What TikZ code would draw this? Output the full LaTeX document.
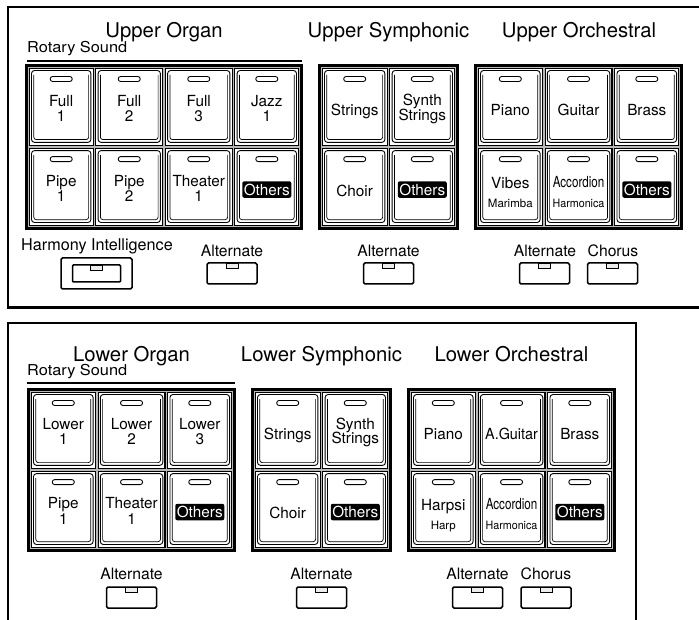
\documentclass[tikz,border=0pt]{standalone}
\usepackage{fontspec}
\setmainfont{TeX Gyre Heros}
\usepackage{graphicx}
\usetikzlibrary{calc}
\tikzset{
  panelline/.style={line width=2.5pt},
  grpfill/.style={fill=gray!55},
  grpframe/.style={line width=2.8pt},
  cellbox/.style={line width=1.1pt, fill=white},
  keyface/.style={line width=0.9pt, rounded corners=3pt, fill=white},
  keyinner/.style={line width=0.7pt, rounded corners=2.5pt},
  led/.style={line width=0.9pt, rounded corners=2.4pt, fill=white},
  grptitle/.style={font=\fontsize{20.3}{22}\selectfont, anchor=base, inner sep=0pt},
  keytxt/.style={font=\fontsize{15.3}{16}\selectfont, anchor=base, inner sep=0pt},
  smalltxt/.style={font=\fontsize{11.5}{12}\selectfont, anchor=base, inner sep=0pt},
  otherstag/.style={fill=black, text=white, rounded corners=2pt, font=\fontsize{15.3}{16}\selectfont, inner sep=0pt, minimum width=49pt, minimum height=16.5pt},
  lbl/.style={font=\fontsize{15.7}{17}\selectfont, anchor=base, inner sep=0pt},
  rotary/.style={font=\fontsize{15}{16}\selectfont, anchor=base west, inner sep=0pt},
  tabbtn/.style={draw, line width=1.5pt, rounded corners=1.5pt, minimum width=50pt, minimum height=21pt, inner sep=0pt},
  notch/.style={line width=0.8pt, fill=gray!15},
}
% #1 name, #2 x0, #3 y0, #4 cols, #5 rows, #6 w, #7 h
\newcommand{\keygroup}[7]{%
  \pgfmathsetmacro{\gx}{#2}\pgfmathsetmacro{\gy}{#3}%
  \pgfmathsetmacro{\gxe}{#2+#4*#6}\pgfmathsetmacro{\gye}{#3+#5*#7}%
  \fill[grpfill] (\gx,\gy) rectangle (\gxe,\gye);
  \foreach \ci in {1,...,#4}{%
    \foreach \ri in {1,...,#5}{%
      \pgfmathsetmacro{\cl}{#2+(\ci-1)*#6+ifthenelse(\ci==1,4.3,1.4)}%
      \pgfmathsetmacro{\cr}{#2+\ci*#6-ifthenelse(\ci==#4,4.3,1.4)}%
      \pgfmathsetmacro{\ct}{#3+(\ri-1)*#7+ifthenelse(\ri==1,4.3,1.4)}%
      \pgfmathsetmacro{\cb}{#3+\ri*#7-ifthenelse(\ri==#5,4.3,1.4)}%
      \pgfmathsetmacro{\kl}{\cl+2.2}\pgfmathsetmacro{\kr}{\cr-2.2}%
      \pgfmathsetmacro{\kt}{\ct+2.2}\pgfmathsetmacro{\kb}{\cb-3.2}%
      \pgfmathsetmacro{\kx}{(\cl+\cr)/2}\pgfmathsetmacro{\ky}{(\ct+\cb)/2}%
      \draw[cellbox] (\cl,\ct) rectangle (\cr,\cb);
      \draw[keyface] (\kl,\kt) rectangle (\kr,\kb);
      \draw[keyinner] (\kl+2.3,\kt+4.5) -- (\kl+2.3,\kb-2.8) -- (\kr-2.3,\kb-2.8) -- (\kr-2.3,\kt+4.5);
      \draw[led] (\kx-11,\kt+6) rectangle (\kx+11,\kt+11);
      \coordinate (#1-\ci-\ri) at (\kx,\ky);
    }}
  \draw[grpframe] (\gx+1.4,\gy+1.4) rectangle (\gxe-1.4,\gye-1.4);
}
\newcommand{\twoline}[4]{%
  \node[keytxt] (#1a) at ($(#2)+(0,-0.8)$) {#3};
  \node[keytxt] (#1b) at ($(#2)+(0,14.5)$) {#4};}
\newcommand{\oneline}[3]{\node[keytxt] (#1) at ($(#2)+(0,9)$) {#3};}
\newcommand{\otherskey}[2]{\node[otherstag] (#1) at ($(#2)+(0,2.5)$) {Others};}
\newcommand{\bigsmall}[4]{%
  \node[keytxt] (#1a) at ($(#2)+(0,1)$) {#3};
  \node[smalltxt] (#1b) at ($(#2)+(0,20)$) {#4};}
\newcommand{\accord}[2]{%
  \node[keytxt] (#1a) at ($(#2)+(0,0)$) {\scalebox{0.76}[1]{Accordion}};
  \node[smalltxt] (#1b) at ($(#2)+(0,20)$) {\scalebox{0.93}[1]{Harmonica}};}
\newcommand{\synth}[2]{%
  \node[keytxt] (#1a) at ($(#2)+(0,-1)$) {Synth};
  \node[keytxt] (#1b) at ($(#2)+(0,13.5)$) {Strings};}
% #1 name, #2 cx, #3 cy
\newcommand{\tabkey}[3]{%
  \draw[notch] (#2-6,#3-10.5) rectangle (#2+6,#3-5.5);
  \node[tabbtn] (#1) at (#2,#3) {};}
\begin{document}
\begin{tikzpicture}[x=1pt,y=-1pt]
\useasboundingbox (0,0) rectangle (699,620);
% panels
\draw[panelline] (702,7) -- (8,7) -- (8,307.5) -- (702,307.5);
\draw[panelline] (8,623) -- (8,323) -- (636,323) -- (636,623);

% ---------- upper ----------
\node[grptitle] (tuo) at (164,37.5) {Upper Organ};
\node[grptitle] (tus) at (388.5,37.5) {Upper Symphonic};
\node[grptitle] (tuc) at (579,37.5) {Upper Orchestral};
\node[rotary] (rsu) at (27,53) {\scalebox{1.09}[1]{Rotary Sound}};
\draw[line width=2pt] (27,61) -- (302,61);

\keygroup{uo}{25}{64}{4}{2}{69.5}{83}
\keygroup{us}{318}{64}{2}{2}{70.5}{83}
\keygroup{uc}{474}{64}{3}{2}{69.7}{83}

\twoline{uof1}{uo-1-1}{Full}{1}
\twoline{uof2}{uo-2-1}{Full}{2}
\twoline{uof3}{uo-3-1}{Full}{3}
\twoline{uoj1}{uo-4-1}{Jazz}{1}
\twoline{uop1}{uo-1-2}{Pipe}{1}
\twoline{uop2}{uo-2-2}{Pipe}{2}
\twoline{uot1}{uo-3-2}{Theater}{1}
\otherskey{uooth}{uo-4-2}

\oneline{usstr}{us-1-1}{Strings}
\synth{ussyn}{us-2-1}
\oneline{uscho}{us-1-2}{Choir}
\otherskey{usoth}{us-2-2}

\oneline{ucpia}{uc-1-1}{Piano}
\oneline{ucgui}{uc-2-1}{Guitar}
\oneline{ucbra}{uc-3-1}{Brass}
\bigsmall{ucvib}{uc-1-2}{Vibes}{Marimba}
\accord{ucacc}{uc-2-2}
\otherskey{ucoth}{uc-3-2}

\node[lbl, font=\fontsize{16.2}{17}\selectfont] (lhi) at (97,250.5) {Harmony Intelligence};
\node[draw, line width=1.5pt, rounded corners=1.5pt, minimum width=71pt, minimum height=31pt, inner sep=0pt] (hibtn) at (96.5,273.5) {};
\draw[notch] (90.5,265) rectangle (102.5,270);
\node[draw, line width=1.5pt, rounded corners=1pt, minimum width=48pt, minimum height=17pt, inner sep=0pt] (hiin) at (96.5,273.5) {};

\node[lbl] (luoalt) at (232,256.5) {Alternate};
\tabkey{uoalt}{232}{273.5}
\node[lbl] (lusalt) at (388.5,256.5) {Alternate};
\tabkey{usalt}{388.5}{273.5}
\node[lbl] (lucalt) at (545,256.5) {Alternate};
\tabkey{ucalt}{544.5}{273.5}
\node[lbl] (lucch) at (613,256.5) {Chorus};
\tabkey{ucch}{612.5}{273.5}

% ---------- lower ----------
\node[grptitle] (tlo) at (131.5,361.5) {Lower Organ};
\node[grptitle] (tls) at (321.5,361.5) {Lower Symphonic};
\node[grptitle] (tlc) at (511.5,361.5) {Lower Orchestral};
\node[rotary] (rsl) at (27,376) {\scalebox{1.09}[1]{Rotary Sound}};
\draw[line width=2pt] (27,382.5) -- (235,382.5);

\keygroup{lo}{27}{388}{3}{2}{69.7}{82}
\keygroup{ls}{251}{388}{2}{2}{70.5}{82}
\keygroup{lc}{407}{388}{3}{2}{69.7}{82}

\twoline{lol1}{lo-1-1}{Lower}{1}
\twoline{lol2}{lo-2-1}{Lower}{2}
\twoline{lol3}{lo-3-1}{Lower}{3}
\twoline{lop1}{lo-1-2}{Pipe}{1}
\twoline{lot1}{lo-2-2}{Theater}{1}
\otherskey{looth}{lo-3-2}

\oneline{lsstr}{ls-1-1}{Strings}
\synth{lssyn}{ls-2-1}
\oneline{lscho}{ls-1-2}{Choir}
\otherskey{lsoth}{ls-2-2}

\oneline{lcpia}{lc-1-1}{Piano}
\oneline{lcgui}{lc-2-1}{\scalebox{0.94}[1]{A.Guitar}}
\oneline{lcbra}{lc-3-1}{Brass}
\bigsmall{lchar}{lc-1-2}{Harpsi}{Harp}
\accord{lcacc}{lc-2-2}
\otherskey{lcoth}{lc-3-2}

\node[lbl] (lloalt) at (131.5,579) {Alternate};
\tabkey{loalt}{131.5}{597.5}
\node[lbl] (llsalt) at (321.5,579) {Alternate};
\tabkey{lsalt}{321.5}{597.5}
\node[lbl] (llcalt) at (477.5,579) {Alternate};
\tabkey{lcalt}{477.5}{597.5}
\node[lbl] (llcch) at (546,579) {Chorus};
\tabkey{lcch}{546}{597.5}
\end{tikzpicture}
\end{document}
